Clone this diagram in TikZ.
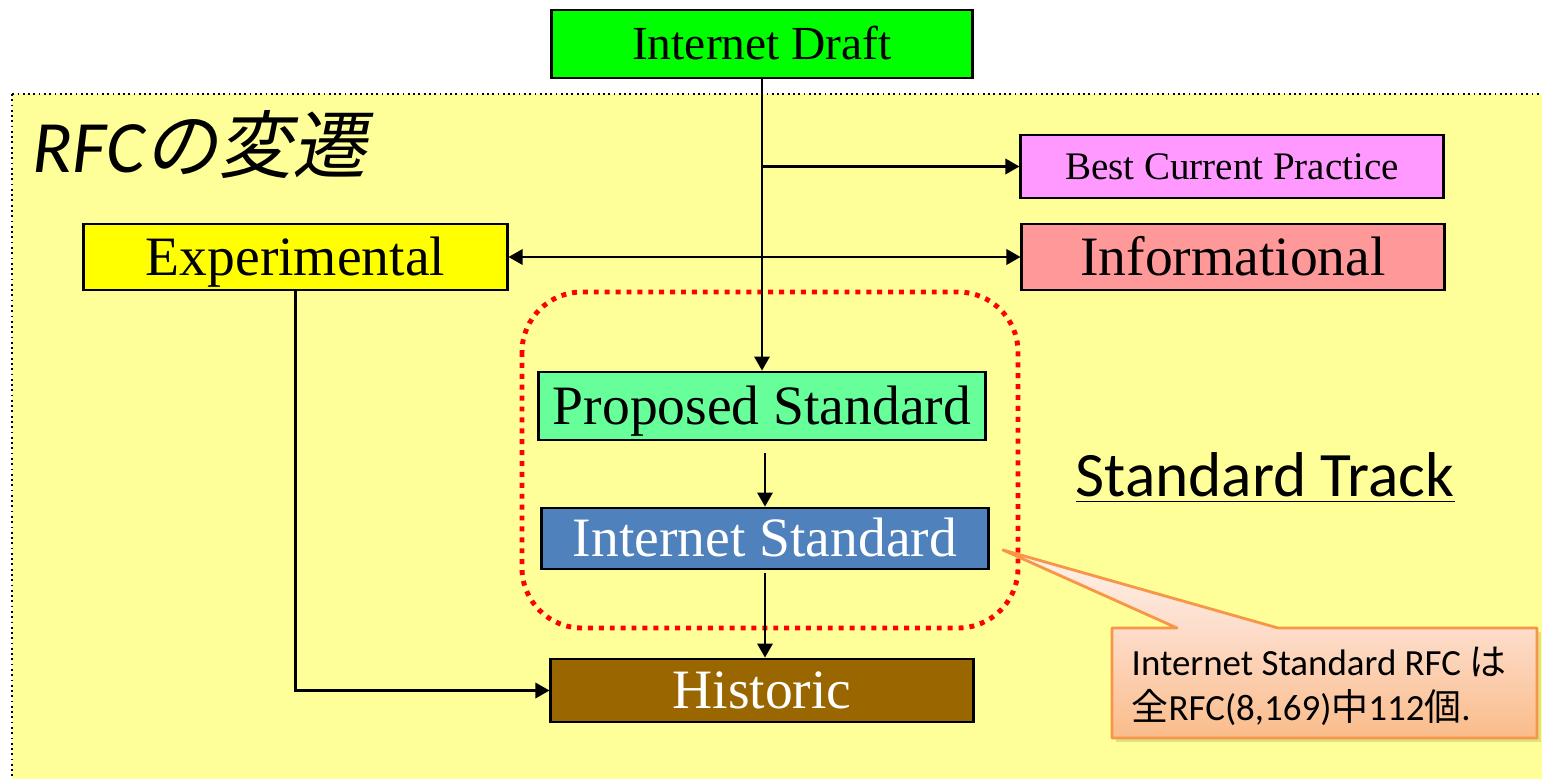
\documentclass[tikz,border=0pt]{standalone}
\usepackage{fontspec}
\setmainfont{Liberation Serif}
\newfontfamily\calibri{Carlito}
\newfontfamily\cjk{Noto Sans CJK JP}
\newfontfamily\cjkslant[FakeSlant=0.2]{Noto Sans CJK JP}
\usepackage{tikz}
\usetikzlibrary{arrows.meta}
\tikzset{>={Triangle[length=4pt,width=4.4pt]}}
\definecolor{bgyellow}{HTML}{FFFF99}
\definecolor{draftgreen}{HTML}{00FF00}
\definecolor{bcppink}{HTML}{FF99FF}
\definecolor{inforose}{HTML}{FF9999}
\definecolor{expyellow}{HTML}{FFFF00}
\definecolor{propgreen}{HTML}{66FF99}
\definecolor{stdblue}{HTML}{4F81BD}
\definecolor{histbrown}{HTML}{996600}
\definecolor{calloutline}{HTML}{F79646}
\definecolor{callouttop}{HTML}{FDDDCB}
\definecolor{calloutbot}{HTML}{FABC8A}

\begin{document}
\begin{tikzpicture}[x=0.01cm,y=-0.01cm,
    rfcbox/.style={draw,line width=0.8pt,inner sep=0pt,text height=10.4pt,text depth=0pt,minimum width=4.22cm,minimum height=0.64cm,font=\fontsize{15.8}{18}\selectfont},
    link/.style={line width=0.6pt}]
    \useasboundingbox (0,0) rectangle (1542,779);
    \clip (0,0) rectangle (1542,779);
    \draw[fill=bgyellow,densely dotted,line width=0.5pt] (12,94) rectangle (1570,800);
    \node[anchor=west,inner sep=0pt,font=\fontsize{21}{25}\selectfont] at (32,145) (e41b07d2) {\calibri\itshape RFC\cjkslant の変遷};
    \draw[red,line width=1.4pt,dash pattern=on 1.4pt off 1.7pt,rounded corners=0.6cm] (522,292) rectangle (1018,628);
    \node[rfcbox,fill=draftgreen,minimum width=4.2cm,minimum height=0.68cm,text height=8.9pt,font=\fontsize{13.5}{16}\selectfont] at (762,44) (3b9e1c07) {Internet Draft};
    \node[rfcbox,fill=bcppink,minimum height=0.63cm,text height=7.3pt,font=\fontsize{11.1}{13}\selectfont] at (1232,166.5) (7d2a4f10) {Best Current Practice};
    \node[rfcbox,fill=inforose,minimum height=0.66cm] at (1233,257) (c81e5a3d) {Informational};
    \node[rfcbox,fill=expyellow,minimum width=4.23cm,minimum height=0.66cm] at (295.5,257) (5f0b92e6) {Experimental};
    \node[rfcbox,fill=propgreen,minimum width=4.46cm,minimum height=0.68cm] at (762,406) (a4c7d813) {Proposed Standard};
    \node[rfcbox,fill=stdblue,text=white,minimum width=4.46cm,minimum height=0.61cm] at (765,538.5) (9e63b2f5) {Internet Standard};
    \node[rfcbox,fill=histbrown,text=white,minimum height=0.63cm] at (762,690.5) (2d8f0a6c) {Historic};
    \node[font=\fontsize{18}{21}\selectfont\calibri] at (1265,478) (b07c3e19) {\underline{Standard Track}};
    \draw[link,->] (3b9e1c07.south) -- (a4c7d813.north);
    \draw[link,->] (3b9e1c07.south |- 7d2a4f10.west) -- (7d2a4f10.west);
    \draw[link,<->] (5f0b92e6.east) -- (c81e5a3d.west);
    \draw[link,->,shorten <=0.12cm] (a4c7d813.south -| 9e63b2f5.north) -- (9e63b2f5.north);
    \draw[link,->,shorten <=0.03cm] (9e63b2f5.south) -- (2d8f0a6c.north -| 9e63b2f5.south);
    \draw[link,->] (5f0b92e6.south) |- (2d8f0a6c.west);
    % callout
    \fill[black,opacity=0.12] (1116,632) rectangle (1541,742);
    \shade[top color=white!60!callouttop,bottom color=callouttop] (1177,628) -- (1003,550) -- (1278,628) -- cycle;
    \shade[top color=callouttop,bottom color=calloutbot] (1112,628) rectangle (1537,738);
    \draw[calloutline,line width=0.8pt,line join=round] (1112,628) -- (1177,628) -- (1003,550) -- (1278,628) -- (1537,628) -- (1537,738) -- (1112,738) -- cycle;
    \node[anchor=west,align=left,inner sep=0pt,font=\fontsize{10.5}{12.8}\selectfont\calibri] at (1131,686) (6a5d91c4) {Internet Standard RFC {\cjk は}\\{\cjk 全}RFC(8,169){\cjk 中}112{\cjk 個}.};
\end{tikzpicture}
\end{document}
